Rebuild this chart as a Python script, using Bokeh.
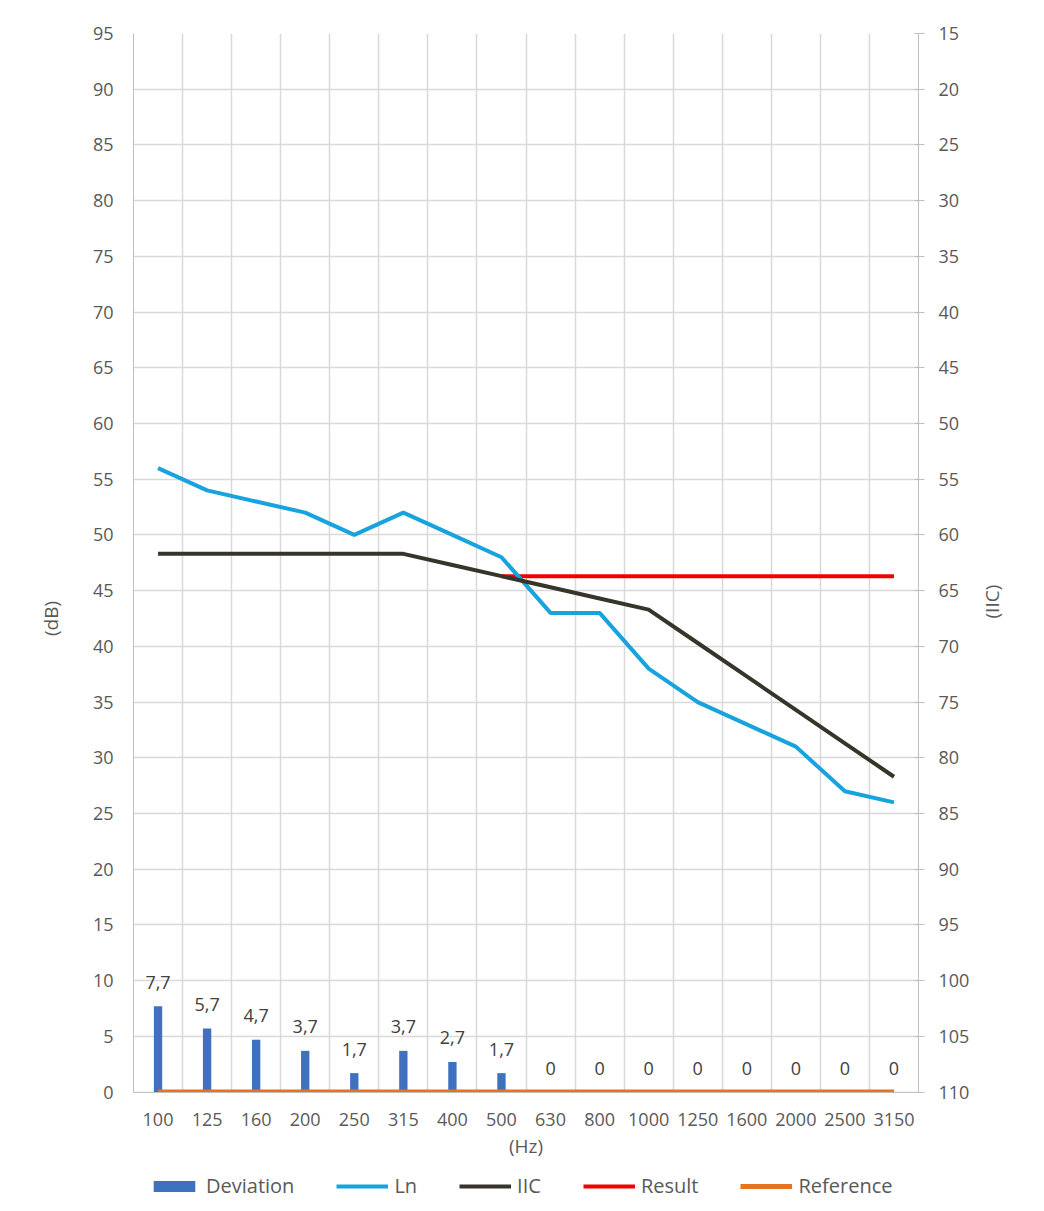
import math
from bokeh.plotting import figure
from bokeh.models import (ColumnDataSource, Range1d, LinearAxis, FixedTicker,
                          Legend, LegendItem, BoxAnnotation)
from bokeh.core.properties import value
from bokeh.embed import file_html
from bokeh.resources import INLINE

# ---- data -------------------------------------------------------------
freqs = ["100", "125", "160", "200", "250", "315", "400", "500", "630",
         "800", "1000", "1250", "1600", "2000", "2500", "3150"]
ln_vals = [56, 54, 53, 52, 50, 52, 50, 48, 43, 43, 38, 35, 33, 31, 27, 26]
iic_vals = [48.3, 48.3, 48.3, 48.3, 48.3, 48.3, 47.3, 46.3, 45.3, 44.3,
            43.3, 40.3, 37.3, 34.3, 31.3, 28.3]
deviation = [7.7, 5.7, 4.7, 3.7, 1.7, 3.7, 2.7, 1.7, 0, 0, 0, 0, 0, 0, 0, 0]
result_vals = [float("nan")] * 7 + [46.3] * 9
reference_vals = [0] * 16
left_ticks = list(range(0, 100, 5))
right_ticks = list(range(15, 115, 5))

FONT = "Open Sans"
TICK_COL = "#595959"

xs = [i + 0.5 for i in range(len(freqs))]
labels = [("%g" % v).replace(".", ",") for v in deviation]
src = ColumnDataSource(dict(x=xs, ln=ln_vals, iic=iic_vals, dev=deviation,
                            res=result_vals, ref=reference_vals, lbl=labels))

# frame extends below 0 to host the axis labels and the legend
p = figure(frame_width=785, frame_height=1170,
           output_backend="svg", toolbar_location=None,
           x_range=Range1d(0, len(freqs)), y_range=Range1d(-10, 95),
           min_border_left=133, min_border_right=110, min_border_top=33,
           min_border_bottom=0)
p.outline_line_color = None
p.background_fill_color = "white"
p.border_fill_color = "white"

# right axis (IIC), inverted: IIC = 110 - dB
p.extra_y_ranges = {"iic": Range1d(start=120, end=15)}

# white mask below the zero line (hides grid lines there)
p.add_layout(BoxAnnotation(top=0, fill_color="white", fill_alpha=1,
                           line_color=None, level="glyph"))

# glyphs
bars = p.vbar(x="x", top="dev", width=0.17, bottom=0, source=src,
              fill_color="#3F72BE", line_color=None)
ref_r = p.line(x="x", y="ref", source=src, line_color="#E8731F", line_width=5)
res_r = p.line(x="x", y="res", source=src, line_color="#F50000", line_width=4)
ln_r = p.line(x="x", y="ln", source=src, line_color="#17A3DD", line_width=4)
iic_r = p.line(x="x", y="iic", source=src, line_color="#37342A", line_width=4)

p.text(x="x", y="dev", text="lbl", source=src, text_align="center",
       text_baseline="alphabetic", y_offset=-24, text_font=value(FONT),
       text_font_size="18px", text_color="#404040")

# grids
p.xgrid.ticker = FixedTicker(ticks=list(range(0, len(freqs) + 1)))
p.ygrid.ticker = FixedTicker(ticks=left_ticks)
for g in (p.xgrid, p.ygrid):
    g.grid_line_color = "#d9d9d9"
    g.grid_line_width = 1.5

# x axis, drawn at y = 0
xa = p.xaxis[0]
xa.fixed_location = 0
xa.ticker = FixedTicker(ticks=xs)
xa.major_label_overrides = {x: f for x, f in zip(xs, freqs)}
xa.axis_label = "(Hz)"
xa.major_tick_line_color = None
xa.minor_tick_line_color = None
xa.major_tick_out = 0
xa.major_tick_in = 0
xa.major_label_standoff = 21
xa.axis_label_standoff = 3
xa.axis_line_color = "#bfbfbf"

# left axis
ya = p.yaxis[0]
ya.ticker = FixedTicker(ticks=left_ticks)
ya.bounds = (0, 95)
ya.axis_label = "(dB)"
ya.major_tick_line_color = None
ya.minor_tick_line_color = None
ya.major_tick_out = 0
ya.major_tick_in = 0
ya.major_label_standoff = 20
ya.axis_label_standoff = 26
ya.axis_line_color = "#bfbfbf"

# right axis
ra = LinearAxis(y_range_name="iic", ticker=FixedTicker(ticks=right_ticks),
                axis_label="(IIC)", bounds=(15, 110))
ra.major_tick_line_color = "#bfbfbf"
ra.minor_tick_line_color = None
ra.major_tick_out = 6
ra.major_tick_in = 4
ra.major_label_standoff = 14
ra.axis_label_standoff = 20
ra.axis_label_orientation = math.pi / 2
ra.axis_line_color = "#bfbfbf"
p.add_layout(ra, "right")

for ax in (xa, ya, ra):
    ax.major_label_text_font = FONT
    ax.major_label_text_font_size = "18px"
    ax.major_label_text_color = TICK_COL
    ax.axis_label_text_font = FONT
    ax.axis_label_text_font_size = "19px"
    ax.axis_label_text_font_style = "normal"
    ax.axis_label_text_color = TICK_COL

legend = Legend(items=[
    LegendItem(label="Deviation", renderers=[bars]),
    LegendItem(label="Ln", renderers=[ln_r]),
    LegendItem(label="IIC", renderers=[iic_r]),
    LegendItem(label="Result", renderers=[res_r]),
    LegendItem(label="Reference", renderers=[ref_r]),
], orientation="horizontal", location=(15, 4))
legend.border_line_color = None
legend.background_fill_alpha = 0
legend.label_text_font = FONT
legend.label_text_font_size = "20px"
legend.label_text_color = TICK_COL
legend.glyph_width = 52
legend.glyph_height = 14
legend.label_standoff = 6
legend.spacing = 42
legend.margin = 0
legend.padding = 2
p.add_layout(legend, "center")

open("out.html", "w").write(file_html(p, INLINE))
